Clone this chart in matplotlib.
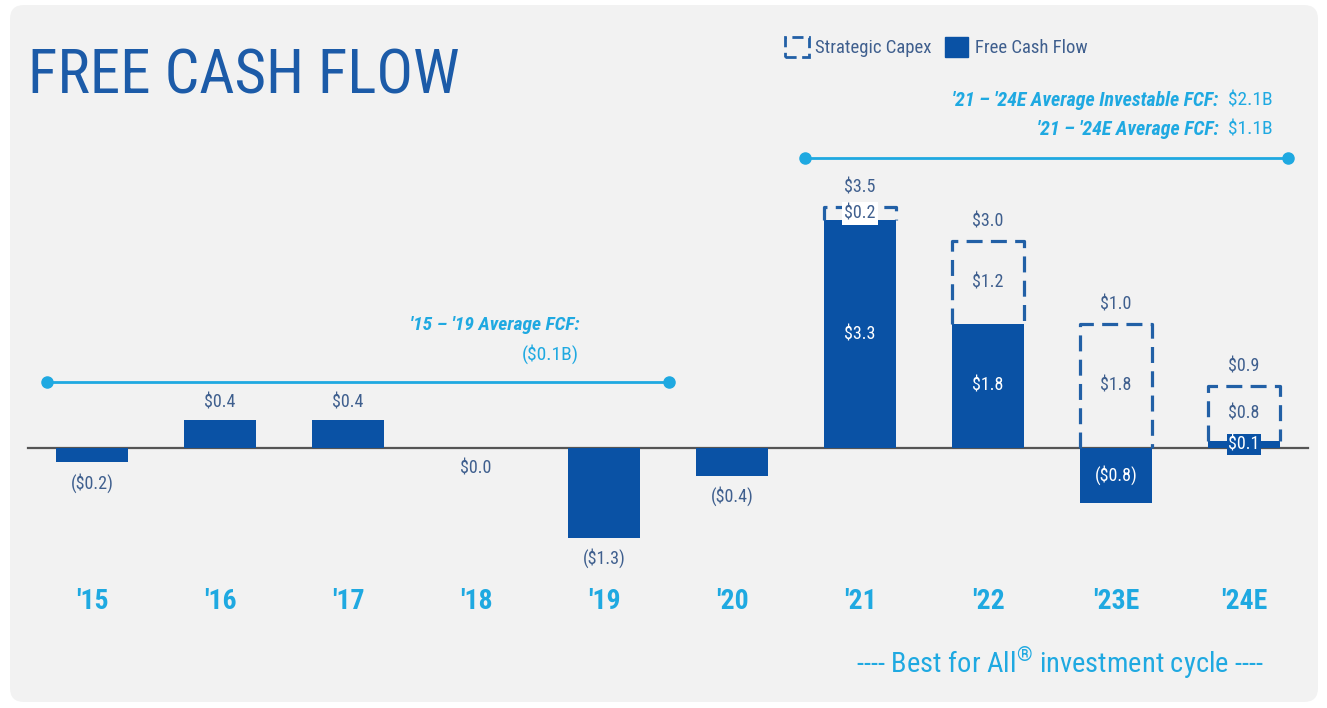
import numpy as np
import matplotlib
matplotlib.use("Agg")
import matplotlib.pyplot as plt
from matplotlib.patches import FancyBboxPatch, Patch

# ---- data (in $B) ----
years = ["'15", "'16", "'17", "'18", "'19", "'20", "'21", "'22", "'23E", "'24E"]
fcf = [-0.2, 0.4, 0.4, 0.0, -1.3, -0.4, 3.3, 1.8, -0.8, 0.1]
capex = [0.0, 0.0, 0.0, 0.0, 0.0, 0.0, 0.2, 1.2, 1.8, 0.8]
avg_fcf_15_19 = -0.1
avg_fcf_21_24 = 1.1
avg_inv_fcf_21_24 = 2.1

BLUE = "#0a52a5"
DASH = "#2260a6"
LIGHT = "#1fa9e1"
LBL = "#3f5f8e"
plt.rcParams["font.family"] = ["Roboto Condensed", "Roboto", "DejaVu Sans"]
plt.rcParams["mathtext.fontset"] = "custom"
plt.rcParams["mathtext.rm"] = "Roboto Condensed"


def money(v, unit=""):
    return f"${v:.1f}{unit}" if v >= 0 else f"(${-v:.1f}{unit})"


W_PX, H_PX = 1327, 708
fig = plt.figure(figsize=(W_PX / 100, H_PX / 100), dpi=100)
fig.patch.set_facecolor("white")

# rounded grey panel, drawn in pixel coordinates
bg = fig.add_axes([0, 0, 1, 1], zorder=0)
bg.set_xlim(0, W_PX); bg.set_ylim(H_PX, 0); bg.axis("off")
bg.add_patch(FancyBboxPatch((10, 5), 1308, 697, boxstyle="round,pad=0,rounding_size=14",
                            fc="#f2f2f2", ec="none"))

# main axes spans the whole figure: x = category index, y = $B
ax = fig.add_axes([0, 0, 1, 1], zorder=1)
ax.patch.set_alpha(0)
ax.set_xlim(-0.719, 9.648)
ax.set_ylim(-3.768, 6.493)
ax.axis("off")

x = np.arange(len(years))
bw = 0.56
ax.axhline(0, xmin=28 / W_PX, xmax=1308 / W_PX, color="#555555", lw=1.6, zorder=2)
ax.bar(x, fcf, width=bw, color=BLUE, zorder=3)

for i, (f, c) in enumerate(zip(fcf, capex)):
    if c > 0:
        b = max(f, 0); t = b + c
        ax.plot([i - bw / 2, i - bw / 2, i + bw / 2, i + bw / 2], [b, t, t, b],
                color=DASH, lw=2.3, ls=(0, (5, 2.6)), zorder=4)
        # capex value in the middle of the dashed box
        kw = dict(bbox=dict(fc="white", ec="none", pad=1.5)) if c < 0.4 else {}
        ax.text(i, b + c / 2, money(c), ha="center", va="center", fontsize=13, color=LBL, zorder=5, **kw)
        # total on top
        ax.annotate(money(f + c), (i, t), xytext=(0, 14), textcoords="offset points",
                    ha="center", va="center", fontsize=13, color=LBL)
        # FCF inside the bar
        kw = dict(bbox=dict(fc=BLUE, ec="none", pad=1.2)) if abs(f) < 0.3 else {}
        ax.text(i, f / 2, money(f), ha="center", va="center", fontsize=13, color="white", zorder=5, **kw)
    else:
        off = 13 if f > 0 else -15
        ax.annotate(money(f), (i, f), xytext=(0, off), textcoords="offset points",
                    ha="center", va="center", fontsize=13, color=LBL)

for i, yl in enumerate(years):
    ax.text(i, -2.22, yl, ha="center", va="center", fontsize=20, fontweight="bold", color=LIGHT)

# average-period brackets
ax.plot([-0.35, 4.51], [0.96, 0.96], "-o", color=LIGHT, lw=2, ms=8, zorder=2)
ax.plot([5.57, 9.34], [4.2, 4.2], "-o", color=LIGHT, lw=2, ms=8, zorder=2)

ax.text(3.81, 1.78, "'15 – '19 Average FCF:", ha="right", va="center", fontsize=14,
        fontweight="bold", fontstyle="italic", color=LIGHT)
ax.text(3.80, 1.36, money(avg_fcf_15_19, "B"), ha="right", va="center", fontsize=14, color=LIGHT)

ax.text(8.80, 5.04, "'21 – '24E Average Investable FCF:", ha="right", va="center", fontsize=14.3,
        fontweight="bold", fontstyle="italic", color=LIGHT)
ax.text(8.875, 5.04, money(avg_inv_fcf_21_24, "B"), ha="left", va="center", fontsize=14, color=LIGHT)
ax.text(8.80, 4.61, "'21 – '24E Average FCF:", ha="right", va="center", fontsize=14.3,
        fontweight="bold", fontstyle="italic", color=LIGHT)
ax.text(8.875, 4.61, money(avg_fcf_21_24, "B"), ha="left", va="center", fontsize=14, color=LIGHT)

# title, legend, footer
fig.text(28 / W_PX, 1 - 77 / H_PX, "FREE CASH FLOW", ha="left", va="center", fontsize=44, color="#1c5ba8")

handles = [Patch(fc="none", ec=DASH, lw=2, ls=(0, (4, 2))), Patch(fc=BLUE, ec=BLUE)]
fig.legend(handles, ["Strategic Capex", "Free Cash Flow"], loc="center left",
           bbox_to_anchor=(776 / W_PX, 1 - 47 / H_PX), ncol=2, frameon=False,
           fontsize=13.5, handlelength=1.25, handleheight=1.25, handletextpad=0.35,
           columnspacing=0.7, borderpad=0, labelcolor=LBL)

fig.text(1060 / W_PX, 1 - 663 / H_PX, "---- Best for All$^{®}$ investment cycle ----",
         ha="center", va="center", fontsize=20.5, color=LIGHT)

fig.savefig("out.png", dpi=100, facecolor="white")
